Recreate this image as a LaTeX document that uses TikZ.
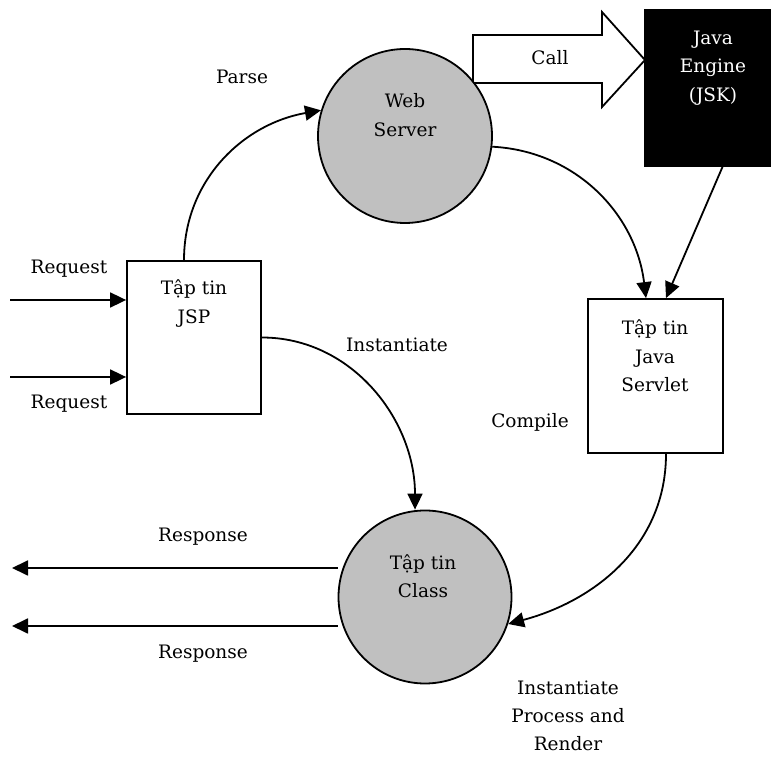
\documentclass[tikz,border=0pt]{standalone}
\usepackage{fontspec}
\setmainfont{DejaVu Serif}
\usetikzlibrary{arrows.meta,calc}
\definecolor{procgray}{HTML}{C0C0C0}
\begin{document}
\begin{tikzpicture}[x=1pt,y=1pt,
  every node/.style={font=\fontsize{18.5}{28.5}\selectfont, align=center},
  conn/.style={line width=1.8pt, -{Triangle[length=16pt,width=15pt]}},
  proc/.style={circle, draw, line width=1.8pt, fill=procgray, minimum size=174pt, inner sep=0pt},
  filebox/.style={rectangle, draw, line width=1.8pt, fill=white, inner sep=0pt},
  lbl/.style={inner sep=0pt}]
\useasboundingbox (0,0) rectangle (771,758);
% block arrow "Call"
\draw[line width=1.8pt, fill=white] (473,723) -- (602,723) -- (602,746) -- (645,698) -- (602,651) -- (602,675) -- (473,675) -- cycle;
\node[lbl] (call) at (550,700) {Call};
% nodes
\node[proc] (ws) at (405,622) {};
\node[lbl] (wst) at (405,643) {Web\\Server};
\node[rectangle, fill=black, draw=black, line width=1.8pt, minimum width=126pt, minimum height=156pt, inner sep=0pt] (java) at (708,670) {};
\node[lbl, text=white] (javat) at (713,690) {Java\\Engine\\(JSK)};
\node[filebox, minimum width=134pt, minimum height=153pt] (jsp) at (194,420.5) {};
\node[lbl] (jspt) at (194,454.5) {Tập tin\\JSP};
\node[filebox, minimum width=135pt, minimum height=154pt] (srv) at (655.5,382) {};
\node[lbl] (srvt) at (655,402) {Tập tin\\Java\\Servlet};
\node[proc, minimum size=173pt] (cls) at (425,161) {};
\node[lbl] (clst) at (423,182) {Tập tin\\Class};
% request / response
\coordinate (rq1) at (10,458);
\coordinate (rq2) at (10,381);
\coordinate (rs1) at (12,190);
\coordinate (rs2) at (12,132);
\draw[conn] (rq1) -- (rq1 -| jsp.west);
\draw[conn] (rq2) -- (rq2 -| jsp.west);
\draw[conn] (rs1 -| cls.west) -- (rs1);
\draw[conn] (rs2 -| cls.west) -- (rs2);
\node[lbl] (lrq1) at (69,489) {Request};
\node[lbl] (lrq2) at (69,354) {Request};
\node[lbl] (lrs1) at (203,221) {Response};
\node[lbl] (lrs2) at (203,104) {Response};
% curves
\draw[conn] ([xshift=-10pt]jsp.north) to[out=90,in=190] (ws.163);
\draw[conn] (ws.353) to[out=-3,in=97] ([xshift=-9.5pt]srv.north);
\draw[conn] ([xshift=14.5pt]java.south) -- ([xshift=10.5pt]srv.north);
\draw[conn] (jsp.east) to[out=0,in=90] ([xshift=-10pt]cls.north);
\draw[conn] ([xshift=10.5pt]srv.south) to[out=-90,in=15] (cls.342);
% labels
\node[lbl] (lparse) at (242,681) {Parse};
\node[lbl] (linst) at (397,413) {Instantiate};
\node[lbl] (lcomp) at (530,336) {Compile};
\node[lbl, font=\fontsize{18.5}{28}\selectfont] (lrender) at (568,42) {Instantiate\\Process and\\Render};
\end{tikzpicture}
\end{document}
